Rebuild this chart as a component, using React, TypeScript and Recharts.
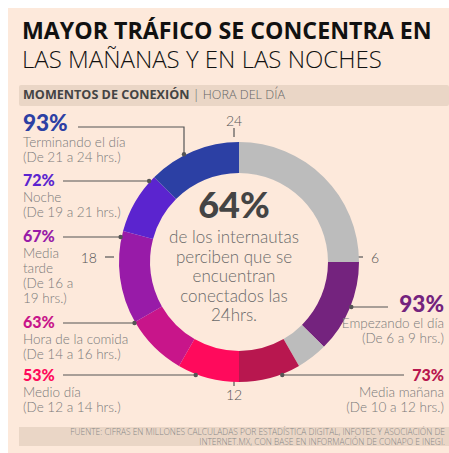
import { Cell, Pie, PieChart } from "recharts";

// hour blocks of the day, clockwise from midnight
const SEGMENTS = [
  "Madrugada",
  "Empezando el día",
  "Sin dato",
  "Media mañana",
  "Medio día",
  "Hora de la comida",
  "Media tarde",
  "Noche",
  "Terminando el día",
];
const HOURS = [6, 3, 1, 2, 2, 2, 3, 2, 3];
const PERCENT = [null, 93, null, 73, 53, 63, 67, 72, 93];
const RANGES = [
  null,
  "(De 6 a 9 hrs.)",
  null,
  "(De 10 a 12 hrs.)",
  "(De 12 a 14 hrs.)",
  "(De 14 a 16 hrs.)",
  "(De 16 a 19 hrs.)",
  "(De 19 a 21 hrs.)",
  "(De 21 a 24 hrs.)",
];
const TICKS = [24, 6, 12, 18];
const CENTER_VALUE = "64%";
const CENTER_TEXT = ["de los internautas", "perciben que se", "encuentran", "conectados las", "24hrs."];
const SOURCE = [
  "FUENTE: CIFRAS EN MILLONES CALCULADAS POR ESTADÍSTICA DIGITAL, INFOTEC Y ASOCIACIÓN DE",
  "INTERNET.MX, CON BASE EN INFORMACIÓN DE CONAPO E INEGI.",
];

const COLORS = ["#bcbcbc", "#74237e", "#bcbcbc", "#b8174f", "#ff0a5c", "#c8158a", "#981ba8", "#5b24cf", "#2c40a4"];

const W = 441;
const H = 445;
const CX = 226;
const CY = 249;
const INNER = 89;
const OUTER = 120;
const FONT = "Lato, 'Open Sans', sans-serif";
const GRAY = "#7a7a7a";
const LINE = "#555";

// label placement per segment (layout only)
type Layout = { side: 1 | -1; y: number; size: number; lineY: number; lineX: number; elbowX?: number; wrap?: number };
const LAYOUT: Record<number, Layout> = {
  1: { side: 1, y: 304, size: 22.5, lineY: 299, lineX: 380 },
  3: { side: 1, y: 373, size: 16, lineY: 367, lineX: 396 },
  4: { side: -1, y: 373, size: 16, lineY: 367, lineX: 55 },
  5: { side: -1, y: 320, size: 16, lineY: 315, lineX: 55 },
  6: { side: -1, y: 234, size: 16, lineY: 229, lineX: 55, wrap: 8 },
  7: { side: -1, y: 178, size: 16, lineY: 173, lineX: 55 },
  8: { side: -1, y: 123, size: 22.5, lineY: 119, lineX: 70, elbowX: 176 },
};

const data = SEGMENTS.map((name, i) => ({ name, hours: HOURS[i], pct: PERCENT[i], range: RANGES[i] }));

function wrapWords(text: string, max?: number) {
  if (!max) return [text];
  const out: string[] = [];
  let cur = "";
  for (const w of text.split(" ")) {
    if (cur && (cur + " " + w).length > max) {
      out.push(cur);
      cur = w;
    } else cur = cur ? cur + " " + w : w;
  }
  if (cur) out.push(cur);
  return out;
}

function renderLabel(props: any) {
  const { cx, cy, outerRadius, index } = props;
  const L = LAYOUT[index];
  const d = data[index];
  if (!L || d.pct == null) return null;
  const r = outerRadius + 1;
  let dotX: number, dotY: number, points: string;
  if (L.elbowX != null) {
    dotX = L.elbowX;
    dotY = cy - Math.sqrt(r * r - (dotX - cx) ** 2);
    points = `${L.lineX},${L.lineY} ${dotX},${L.lineY} ${dotX},${dotY}`;
  } else {
    dotY = L.lineY;
    dotX = cx + L.side * Math.sqrt(r * r - (dotY - cy) ** 2);
    points = `${L.lineX},${L.lineY} ${dotX},${dotY}`;
  }
  const tx = L.side < 0 ? 15 : 436;
  const anchor = L.side < 0 ? "start" : "end";
  const lines = [...wrapWords(d.name, L.wrap), ...wrapWords(d.range || "", L.wrap)];
  return (
    <g key={`lab-${index}`}>
      <polyline points={points} fill="none" stroke={LINE} strokeWidth={1.2} />
      <circle cx={dotX} cy={dotY} r={2.2} fill={LINE} />
      <text x={tx} y={L.y} textAnchor={anchor} fontFamily={FONT} fontWeight={900} fontSize={L.size} fill={COLORS[index]}>
        {d.pct}%
      </text>
      {lines.map((ln, i) => (
        <text key={i} x={tx} y={L.y + 16 + i * 15} textAnchor={anchor} fontFamily={FONT} fontWeight={300} fontSize={13.5} fill={GRAY}>
          {ln}
        </text>
      ))}
    </g>
  );
}

export default function App() {
  return (
    <div style={{ position: "absolute", left: 8, top: 8, width: W, height: H, background: "#fde9db", fontFamily: FONT }}>
      <svg width={W} height={H} style={{ position: "absolute", left: 0, top: 0 }}>
        <text fontFamily="'Open Sans', sans-serif" fill="#111">
          <tspan x={14} y={31} fontWeight={700} fontSize={23.2}>
            MAYOR TRÁFICO SE CONCENTRA EN
          </tspan>
          <tspan x={14} y={60} fontWeight={300} fontSize={24}>
            LAS MAÑANAS Y EN LAS NOCHES
          </tspan>
        </text>
        <rect x={11} y={77} width={430} height={21} rx={2} fill="#ead6c6" />
        <text x={15} y={91} fontFamily="'Open Sans', sans-serif" fontSize={12.6} fill="#444">
          <tspan fontWeight={700}>MOMENTOS DE CONEXIÓN</tspan>
          <tspan fontWeight={300} fill="#666"> | HORA DEL DÍA</tspan>
        </text>
        <rect x={11} y={419} width={430} height={19} fill="#ead6c6" />
        <text textAnchor="end" fontFamily="'Open Sans', sans-serif" fontWeight={300} fontSize={8.4} fill="#888">
          {SOURCE.map((s, i) => (
            <tspan key={i} x={437} y={427 + i * 9.5}>
              {s}
            </tspan>
          ))}
        </text>
        {TICKS.map((h) => {
          const a = ((h % 24) / 24) * 2 * Math.PI;
          const sx = Math.sin(a);
          const cy = -Math.cos(a);
          const lx = CX + sx * (OUTER + 17);
          const ly = CY + cy * (OUTER + 17);
          return (
            <g key={h}>
              <line x1={CX + sx * OUTER} y1={CY + cy * OUTER} x2={CX + sx * (OUTER + 9)} y2={CY + cy * (OUTER + 9)} stroke={LINE} strokeWidth={1.2} />
              <text x={lx} y={ly} textAnchor={Math.abs(sx) < 0.5 ? "middle" : sx > 0 ? "start" : "end"} dominantBaseline="central" fontFamily={FONT} fontWeight={300} fontSize={14} fill="#555">
                {h}
              </text>
            </g>
          );
        })}
        <text x={CX} y={210} textAnchor="middle" fontFamily={FONT} fontWeight={900} fontSize={36} fill="#444">
          {CENTER_VALUE}
        </text>
        {CENTER_TEXT.map((t, i) => (
          <text key={i} x={CX} y={235 + i * 19.5} textAnchor="middle" fontFamily={FONT} fontWeight={300} fontSize={17} fill="#6a6a6a">
            {t}
          </text>
        ))}
      </svg>
      <div style={{ position: "absolute", left: 0, top: 0 }}>
        <PieChart width={W} height={H}>
          <Pie
            data={data}
            dataKey="hours"
            nameKey="name"
            cx={CX}
            cy={CY}
            innerRadius={INNER}
            outerRadius={OUTER}
            startAngle={90}
            endAngle={-270}
            stroke="none"
            label={renderLabel}
            labelLine={false}
            isAnimationActive={false}
          >
            {data.map((d, i) => (
              <Cell key={d.name + i} fill={COLORS[i]} />
            ))}
          </Pie>
        </PieChart>
      </div>
    </div>
  );
}
